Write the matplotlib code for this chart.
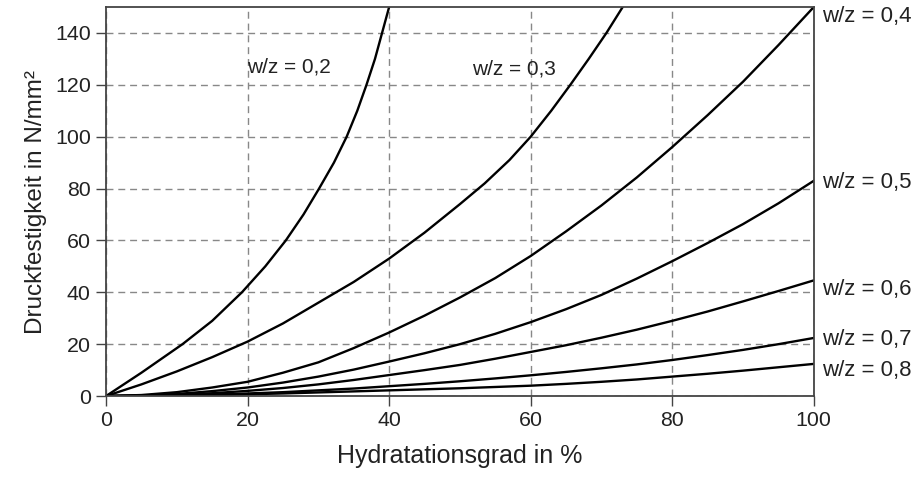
import matplotlib.pyplot as plt

plt.rcParams['font.family'] = ['Liberation Sans', 'DejaVu Sans']

# Hydratationsgrad (%) / Druckfestigkeit (N/mm²) je w/z-Wert
x_02 = [0, 5, 10.8, 15, 19.2, 22.5, 25.4, 27.9, 30.1, 32.2, 34, 35.5, 36.8, 38, 39, 40]
y_02 = [0, 9, 20, 29, 40, 50, 60, 70, 80, 90, 100, 110, 120, 130, 140, 150]
x_03 = [0, 5, 10, 15, 20, 25, 30, 35, 40, 45, 50, 53.5, 57, 60, 62.9, 65.6, 68.2, 70.7, 73]
y_03 = [0, 4.5, 9.5, 15, 21, 28, 36, 44, 53, 63, 74, 82, 91, 100, 110, 120, 130, 140, 150]
x_std = [0, 5, 10, 15, 20, 25, 30, 35, 40, 45, 50, 55, 60, 65, 70, 75, 80, 85, 90, 95, 100]
y_04 = [0, 0.4, 1.5, 3.3, 5.5, 9, 13, 18.5, 24.5, 31, 38, 45.5, 54, 63.5, 73.5, 84.3, 96, 108.3, 121.2, 135.3, 150]
y_05 = [0, 0.2, 0.8, 1.9, 3.3, 5.2, 7.5, 10.2, 13.3, 16.5, 20, 24, 28.5, 33.5, 39, 45.3, 52, 59, 66.3, 74.3, 83]
y_06 = [0, 0.1, 0.5, 1.1, 2, 3.1, 4.5, 6.2, 8.1, 10, 12, 14.4, 17, 19.6, 22.5, 25.6, 29, 32.6, 36.5, 40.5, 44.6]
y_07 = [0, 0.1, 0.3, 0.6, 1.0, 1.5, 2.2, 2.9, 3.8, 4.7, 5.7, 6.8, 8, 9.3, 10.7, 12.2, 13.9, 15.8, 17.8, 20, 22.4]
y_08 = [0, 0.05, 0.2, 0.4, 0.7, 1.0, 1.4, 1.8, 2.2, 2.6, 3.0, 3.5, 4.0, 4.7, 5.5, 6.4, 7.5, 8.6, 9.8, 11.1, 12.4]

inner_labels = ['w/z = 0,2', 'w/z = 0,3']
inner_pos = [(25.8, 127), (57.6, 126)]
right_labels = ['w/z = 0,4', 'w/z = 0,5', 'w/z = 0,6', 'w/z = 0,7', 'w/z = 0,8']
right_y = [146.5, 82.4, 41, 21.7, 9.7]

fig = plt.figure(figsize=(9.18, 4.83), dpi=100)
ax = fig.add_axes([0.1155, 0.18, 0.771, 0.8055])

lw = 1.7
ax.plot(x_02, y_02, color='black', lw=lw)
ax.plot(x_03, y_03, color='black', lw=lw)
for y in [y_04, y_05, y_06, y_07, y_08]:
    ax.plot(x_std, y, color='black', lw=lw)

ax.set_xlim(0, 100)
ax.set_ylim(0, 150)
ax.set_xticks(range(0, 101, 20))
ax.set_yticks(range(0, 141, 20))
ax.grid(True, color='#888888', linestyle=(0, (5, 3.5)), linewidth=1.0)
ax.tick_params(direction='out', length=7, width=1, colors='#444444', labelcolor='#222222', labelsize=15.4, pad=4)
for s in ax.spines.values():
    s.set_color('#444444')
    s.set_linewidth(1.3)

ax.set_xlabel('Hydratationsgrad in %', fontsize=18, color='#222222', labelpad=10)
ax.set_ylabel('Druckfestigkeit in N/mm²', fontsize=17.5, color='#222222', labelpad=6)

for t, (px, py) in zip(inner_labels, inner_pos):
    ax.text(px, py, t, fontsize=15, ha='center', va='center', color='#222222')
for t, py in zip(right_labels, right_y):
    ax.text(101.2, py, t, fontsize=16, ha='left', va='center', color='#222222', clip_on=False)

plt.savefig('out.png', dpi=100)
